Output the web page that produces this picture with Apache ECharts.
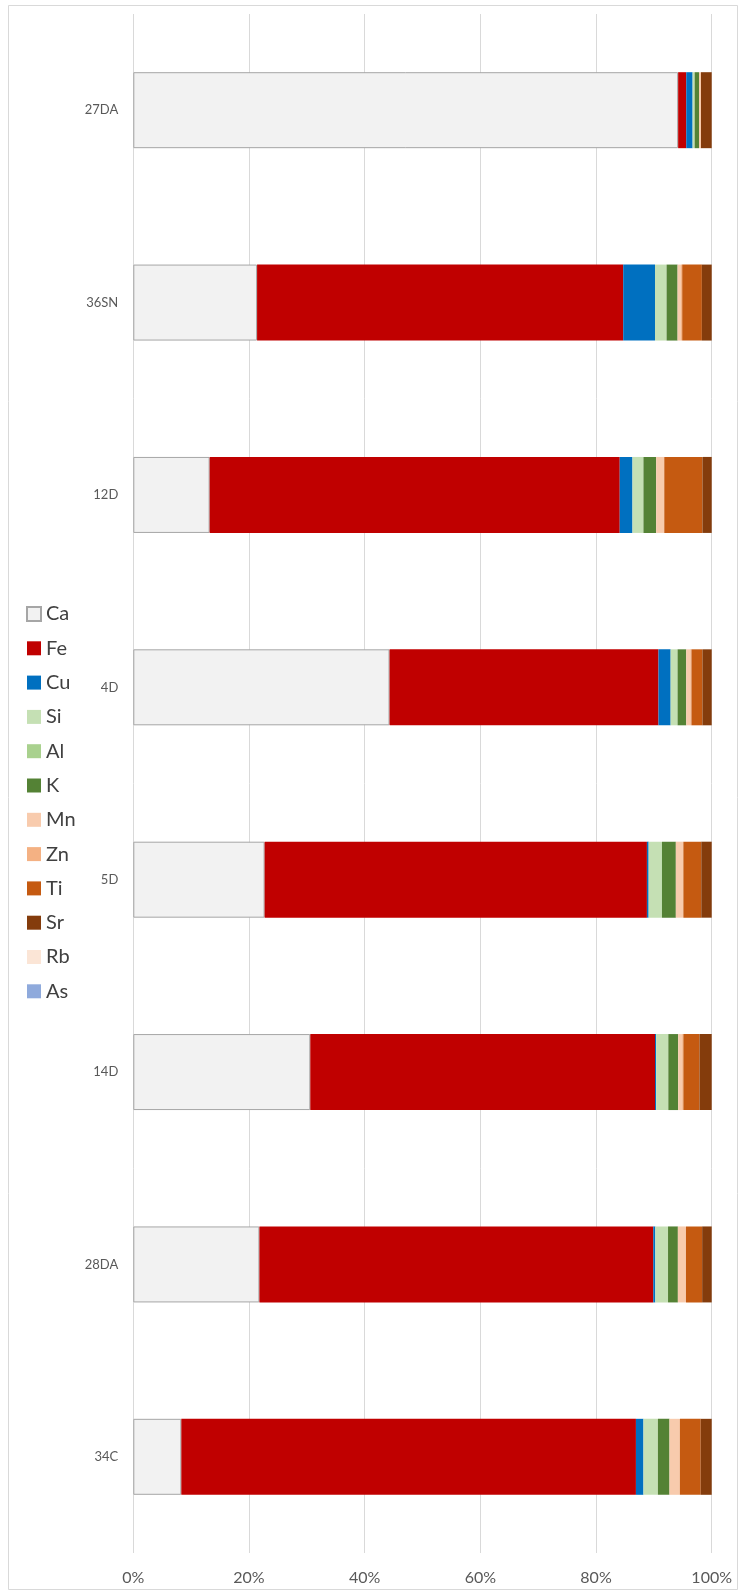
<!DOCTYPE html>
<html><head><meta charset="utf-8">
<script src="https://cdn.jsdelivr.net/npm/echarts@6/dist/echarts.min.js"></script>
<style>html,body{margin:0;padding:0;background:#fff}#c{width:739px;height:1591px}</style>
</head><body><div id="c"></div>
<script>
const categories = ['27DA','36SN','12D','4D','5D','14D','28DA','34C'];
const Ca = [94.2, 21.4, 13.2, 44.3, 22.7, 30.6, 21.8, 8.3];
const Fe = [1.4, 63.3, 70.9, 46.5, 66.1, 59.6, 68.1, 78.6];
const Cu = [1.1, 5.5, 2.2, 2.1, 0.3, 0.2, 0.35, 1.3];
const Si = [0.35, 2.0, 1.9, 1.2, 2.3, 2.1, 2.2, 2.5];
const Al = [0, 0, 0, 0, 0, 0, 0, 0];
const K  = [0.75, 1.9, 2.2, 1.5, 2.4, 1.7, 1.7, 2.0];
const Mn = [0.25, 0.6, 1.4, 0.7, 1.3, 0.7, 1.4, 1.8];
const Zn = [0.1, 0.2, 0, 0.2, 0, 0.2, 0, 0];
const Ti = [0, 3.4, 6.6, 1.9, 3.1, 2.8, 2.8, 3.6];
const Sr = [1.85, 1.7, 1.6, 1.6, 1.8, 2.1, 1.7, 1.9];
const Rb = [0, 0, 0, 0, 0, 0, 0, 0];
const As = [0, 0, 0, 0, 0, 0, 0, 0];
const xTicks = ['0%','20%','40%','60%','80%','100%'];

const seriesDefs = [
  ['Ca', Ca, '#F2F2F2'], ['Fe', Fe, '#C00000'], ['Cu', Cu, '#0070C0'],
  ['Si', Si, '#C5E0B4'], ['Al', Al, '#A9D18E'], ['K', K, '#548235'],
  ['Mn', Mn, '#F8CBAD'], ['Zn', Zn, '#F4B183'], ['Ti', Ti, '#C55A11'],
  ['Sr', Sr, '#843C0C'], ['Rb', Rb, '#FBE5D6'], ['As', As, '#8FAADC']
];
const font = 'Lato, "Open Sans", sans-serif';
const chart = echarts.init(document.getElementById('c'));
chart.setOption({
  animation: false,
  backgroundColor: '#fff',
  textStyle: {fontFamily: font},
  graphic: [{type:'rect', shape:{x:8.5, y:5.5, width:729, height:1584}, style:{fill:'none', stroke:'#D9D9D9', lineWidth:1}, silent:true, z:-1}],
  legend: {
    orient: 'vertical', left: 21, top: 599,
    itemWidth: 14, itemHeight: 14, itemGap: 14.3,
    icon: 'rect',
    textStyle: {fontSize: 20, color: '#404040', fontFamily: font},
    data: seriesDefs.map(d => d[0])
  },
  grid: {left: 133.3, right: 27.3, top: 14, bottom: 38},
  xAxis: {
    type: 'value', min: 0, max: 100, interval: 20,
    axisLine: {show: false}, axisTick: {show: false},
    splitLine: {lineStyle: {color: '#D9D9D9', width: 1}},
    axisLabel: {fontSize: 16, color: '#595959', margin: 17, fontFamily: font,
      formatter: v => xTicks[Math.round(v/20)]}
  },
  yAxis: {
    type: 'category', data: categories, inverse: true,
    axisLine: {show: false}, axisTick: {show: false},
    axisLabel: {fontSize: 13, color: '#595959', margin: 15, fontFamily: font}
  },
  series: seriesDefs.map(([name, vals, color]) => ({
    name, type: 'bar', stack: 'total', data: vals, barWidth: '39.5%',
    itemStyle: name === 'Ca'
      ? {color, borderColor: '#A6A6A6', borderWidth: 1}
      : {color}
  }))
});
</script></body></html>
